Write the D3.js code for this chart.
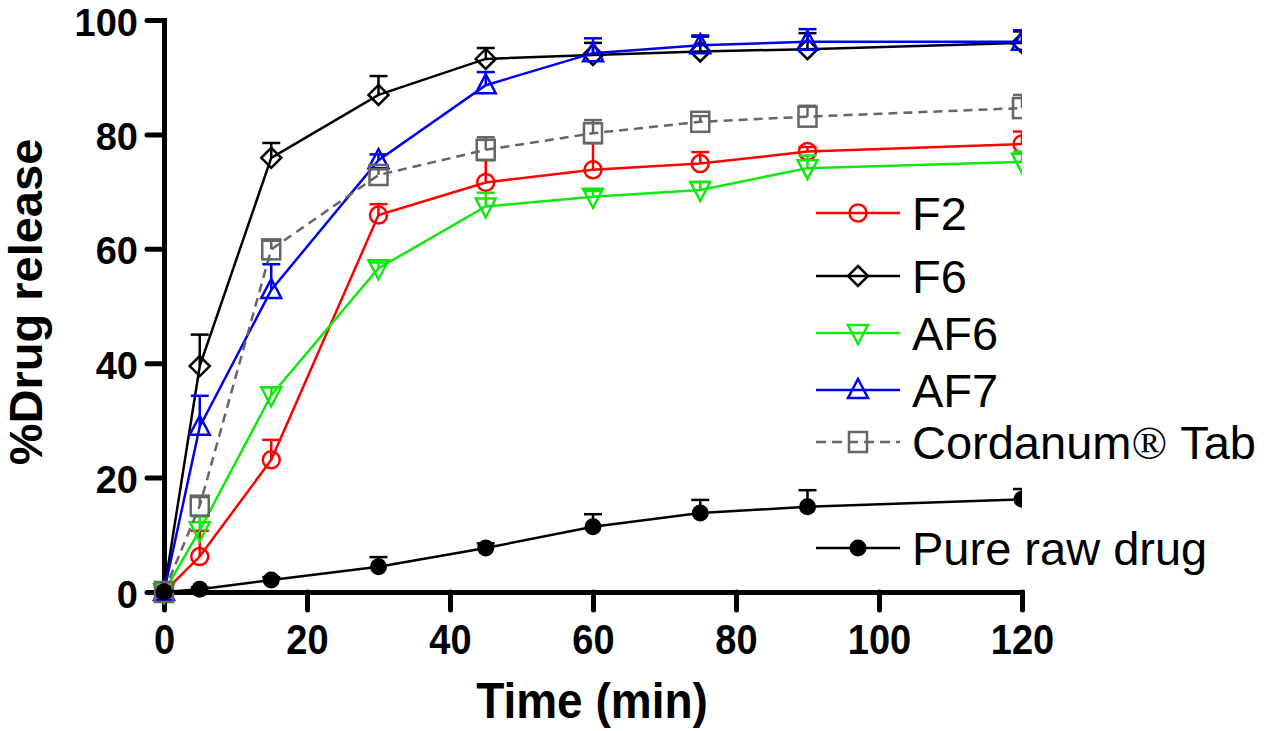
<!DOCTYPE html>
<html>
<head>
<meta charset="utf-8">
<script src="https://cdn.jsdelivr.net/npm/d3@7/dist/d3.min.js"></script>
<style>
  body { margin: 0; background: #fff; }
  svg { display: block; font-family: "Liberation Sans", Arial, sans-serif; }
</style>
</head>
<body>
<div id="chart"></div>
<script>
// sampling times (min)
var times = [0, 5, 15, 30, 45, 60, 75, 90, 120];

// % drug release (mean) and upper error (SD) per formulation
var f2 = [0, 6.2, 23.1, 65.9, 71.6, 73.8, 74.9, 77.0, 78.3];
var f2Err = [0, 4.5, 3.5, 1.9, 3.9, 4.7, 2.0, 0.8, 2.2];

var f6 = [0, 39.5, 75.9, 86.9, 93.2, 93.9, 94.5, 94.9, 96.0];
var f6Err = [0, 5.5, 2.6, 3.3, 1.9, 2.1, 2.6, 2.8, 2.0];

var af6 = [0, 10.8, 34.4, 56.6, 67.4, 69.1, 70.3, 74.1, 75.2];
var af6Err = [0, 2.4, 1.4, 1.0, 2.4, 1.0, 1.4, 2.2, 1.8];

var af7 = [0, 28.9, 52.8, 75.5, 88.6, 94.2, 95.6, 96.2, 96.2];
var af7Err = [0, 5.4, 4.5, 1.0, 2.3, 2.6, 1.7, 2.2, 2.0];

var cordanum = [0, 15.1, 59.9, 72.9, 77.3, 80.2, 82.2, 83.1, 84.6];
var cordanumErr = [0, 1.5, 1.5, 1.0, 2.2, 2.3, 1.0, 1.9, 2.3];

var pureDrug = [0, 0.5, 2.1, 4.4, 7.7, 11.4, 13.8, 14.9, 16.2];
var pureDrugErr = [0, 0.3, 0.5, 1.7, 0.8, 2.2, 2.3, 2.9, 1.8];

var xTicks = [0, 20, 40, 60, 80, 100, 120];
var yTicks = [0, 20, 40, 60, 80, 100];

var series = [
    { name: "F2", values: f2, err: f2Err, color: "#ff0000", symbol: "circle", dash: null },
    { name: "F6", values: f6, err: f6Err, color: "#000000", symbol: "diamond", dash: null },
    { name: "AF6", values: af6, err: af6Err, color: "#10e810", symbol: "triDown", dash: null },
    { name: "AF7", values: af7, err: af7Err, color: "#0000ee", symbol: "triUp", dash: null },
    { name: "Cordanum", values: cordanum, err: cordanumErr, color: "#666666", symbol: "square", dash: "9,6" },
    { name: "Pure raw drug", values: pureDrug, err: pureDrugErr, color: "#000000", symbol: "dot", dash: null }
];

var svgWidth = 1264, svgHeight = 731;
var margin = { top: 20, right: 242, bottom: 139, left: 164 };
var width = svgWidth - margin.left - margin.right;
var height = svgHeight - margin.top - margin.bottom;

var svg = d3.select("#chart").append("svg")
    .attr("width", svgWidth)
    .attr("height", svgHeight);

var g = svg.append("g")
    .attr("transform", "translate(" + margin.left + "," + margin.top + ")");

var x = d3.scaleLinear().domain([0, 120]).range([0, width]);
var y = d3.scaleLinear().domain([0, 100]).range([height, 0]);

// axes
var xAxis = g.append("g")
    .attr("transform", "translate(0," + height + ")")
    .call(d3.axisBottom(x).tickValues(xTicks).tickSize(18).tickSizeOuter(0));

var yAxis = g.append("g")
    .call(d3.axisLeft(y).tickValues(yTicks).tickSize(17).tickSizeOuter(0));

[xAxis, yAxis].forEach(function(ax) {
    ax.select(".domain").attr("stroke-width", 5).attr("stroke-linecap", "square");
    ax.selectAll(".tick line").attr("stroke-width", 5).attr("stroke-linecap", "round");
    ax.selectAll(".tick text")
        .attr("font-family", "'Liberation Sans', Arial, sans-serif")
        .attr("font-weight", "bold")
        .attr("font-size", 38)
        .attr("fill", "#000");
});

xAxis.selectAll(".tick text")
    .attr("y", 0).attr("dy", null)
    .attr("transform", "translate(0,62) scale(1,1.1)");

yAxis.selectAll(".tick text")
    .attr("x", -26).attr("y", 15).attr("dy", null);

// axis titles
g.append("text")
    .attr("text-anchor", "middle")
    .attr("font-weight", "bold")
    .attr("font-size", 46)
    .attr("transform", "translate(" + (x(60) - 1) + "," + (height + 126) + ") scale(1,1.07)")
    .text("Time (min)");

g.append("text")
    .attr("text-anchor", "middle")
    .attr("font-weight", "bold")
    .attr("font-size", 47)
    .attr("transform", "translate(" + (-margin.left + 42) + "," + (height / 2 - 4) + ") rotate(-90)")
    .text("%Drug release");

// symbols
function drawSymbol(sel, type, color) {
    var sw = 2.5;
    if (type === "circle") {
        sel.append("circle").attr("r", 8.5)
            .attr("fill", "none").attr("stroke", color).attr("stroke-width", sw);
    } else if (type === "dot") {
        sel.append("circle").attr("r", 8.5).attr("fill", color);
    } else if (type === "diamond") {
        sel.append("path").attr("d", "M0,-10L10,0L0,10L-10,0Z")
            .attr("fill", "none").attr("stroke", color).attr("stroke-width", sw);
    } else if (type === "square") {
        sel.append("rect").attr("x", -9).attr("y", -10).attr("width", 18).attr("height", 20)
            .attr("fill", "none").attr("stroke", color).attr("stroke-width", sw);
    } else if (type === "triUp") {
        sel.append("path").attr("d", "M0,-11L10,8L-10,8Z")
            .attr("fill", "none").attr("stroke", color).attr("stroke-width", sw);
    } else if (type === "triDown") {
        sel.append("path").attr("d", "M0,11L10,-8L-10,-8Z")
            .attr("fill", "none").attr("stroke", color).attr("stroke-width", sw);
    }
}

// data layer, clipped at the right edge of the plot
svg.append("defs").append("clipPath").attr("id", "plotClip")
    .append("rect")
    .attr("x", -margin.left).attr("y", -margin.top)
    .attr("width", margin.left + width).attr("height", svgHeight);

var plot = g.append("g").attr("clip-path", "url(#plotClip)");

var line = d3.line()
    .x(function(d, i) { return x(times[i]); })
    .y(function(d) { return y(d); });

series.forEach(function(s) {
    var sg = plot.append("g");

    // upper error bars
    s.values.forEach(function(v, i) {
        if (s.err[i] <= 0) return;
        var cx = x(times[i]), y0 = y(v), y1 = y(v + s.err[i]);
        sg.append("line")
            .attr("x1", cx).attr("x2", cx).attr("y1", y0).attr("y2", y1)
            .attr("stroke", s.color).attr("stroke-width", 2.5);
        sg.append("line")
            .attr("x1", cx - 9).attr("x2", cx + 9).attr("y1", y1).attr("y2", y1)
            .attr("stroke", s.color).attr("stroke-width", 2.5);
    });

    sg.append("path")
        .datum(s.values)
        .attr("d", line)
        .attr("fill", "none")
        .attr("stroke", s.color)
        .attr("stroke-width", 2.5)
        .attr("stroke-dasharray", s.dash);

    s.values.forEach(function(v, i) {
        var m = sg.append("g")
            .attr("transform", "translate(" + x(times[i]) + "," + y(v) + ")");
        drawSymbol(m, s.symbol, s.color);
    });
});

// legend
var legendRowY = [213, 276, 333, 390, 442, 548];
var legend = svg.append("g");

series.forEach(function(s, i) {
    var row = legend.append("g").attr("transform", "translate(0," + legendRowY[i] + ")");
    row.append("line")
        .attr("x1", 816).attr("x2", 900).attr("y1", 0).attr("y2", 0)
        .attr("stroke", s.color).attr("stroke-width", 2.5)
        .attr("stroke-dasharray", s.dash ? "10,6" : null);
    var m = row.append("g").attr("transform", "translate(858,0)");
    drawSymbol(m, s.symbol, s.color);

    var t = row.append("text")
        .attr("font-size", 47)
        .attr("x", 912)
        .attr("y", 17);
    if (s.name === "Cordanum") {
        t.append("tspan").text("Cordanum");
        t.append("tspan")
            .attr("font-family", "'Liberation Serif', 'Times New Roman', serif")
            .attr("font-size", 47)
            .text("\u00AE");
        t.append("tspan").attr("dx", 13).text("Tab");
    } else {
        t.text(s.name);
    }
});
</script>
</body>
</html>
